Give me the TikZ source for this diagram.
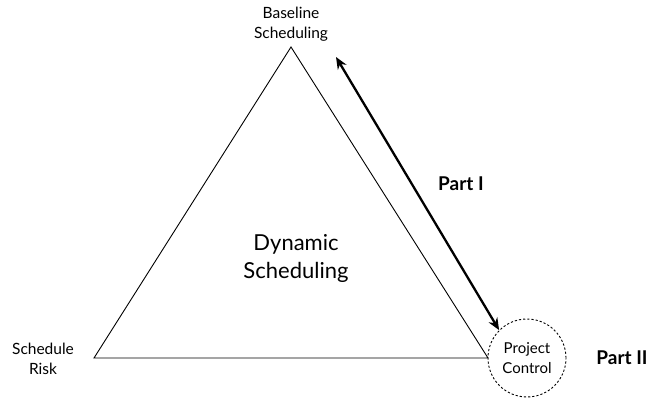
\documentclass[tikz,border=0pt]{standalone}
\usepackage{fontspec}
\setmainfont{Lato}
\usetikzlibrary{arrows.meta,positioning,calc}

\begin{document}
\begin{tikzpicture}[
  x=1pt, y=-1pt,
  lbl/.style={align=center, font=\fontsize{15.5}{20.5}\selectfont, inner sep=0pt},
  part/.style={font=\fontsize{19}{20}\selectfont\bfseries, inner sep=0pt},
  tri/.style={draw, line width=0.9pt, line join=miter},
  ctrl/.style={draw, circle, dash pattern=on 2.2pt off 2pt, line width=0.9pt,
               minimum size=78pt, align=center, inner sep=0pt,
               font=\fontsize{15}{20.5}\selectfont},
  ar/.style={{Stealth[length=12pt,width=10pt]}-{Stealth[length=12pt,width=10pt]}, line width=2.3pt}
]
  \useasboundingbox (0,0) rectangle (656,401);

  % corners of the triangle
  \coordinate (base) at (291,47);
  \coordinate (risk) at (94,358);
  \coordinate (pc)   at (488,358);
  \draw[tri] (base)--(risk)--(pc)--cycle;

  \node[lbl] (basel) at (291,24) {Baseline\\Scheduling};
  \node[lbl] (riskl) at (43,359) {Schedule\\Risk};
  \node[ctrl] (ctrl) at (527,358) {Project\\Control};
  \node[lbl, font=\fontsize{22}{28}\selectfont] (dyn) at (296,258) {Dynamic\\Scheduling};

  \coordinate (top) at (336,57);
  \draw[ar] (top)--(ctrl.north west);

  \node[part] (p1) at (461,184) {Part I};
  \node[part] (p2) at (622,358) {Part II};
\end{tikzpicture}
\end{document}
